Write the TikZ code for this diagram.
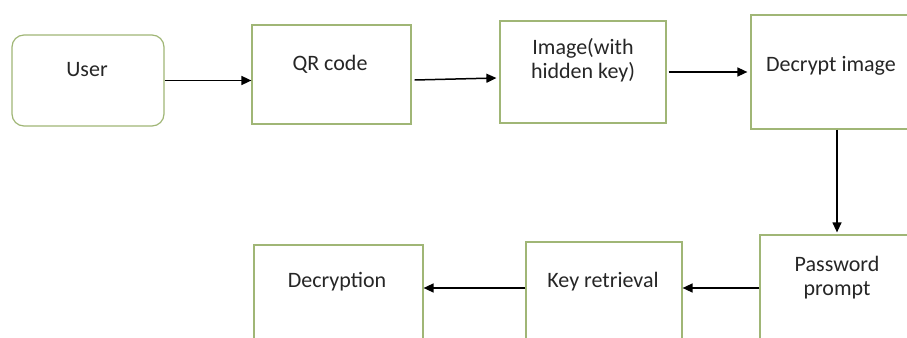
\documentclass[tikz,border=0pt]{standalone}
\usepackage{fontspec}
\setmainfont{Carlito}
\usetikzlibrary{arrows.meta}

\definecolor{boxgreen}{RGB}{160,182,118}

\tikzstyle{block} = [draw=boxgreen, line width=0.6pt, fill=white, inner sep=0pt]
\tikzstyle{start} = [block, rounded corners=6pt]
\tikzstyle{txt} = [font=\fontsize{11}{12}\selectfont, text=black!85, align=center, inner sep=0pt]
\tikzstyle{flow} = [line width=0.75pt, -{Triangle[length=5pt,width=4.5pt]}]

\begin{document}
\begin{tikzpicture}[x=0.5pt, y=-0.5pt]
  \useasboundingbox (0,0) rectangle (907,338);
  \clip (0,0) rectangle (907,338);

  % boxes
  \node (user) at (88,80.5) [start, minimum width=76pt, minimum height=45.5pt] {};
  \node (qr) at (331.5,74.5) [block, minimum width=79.5pt, minimum height=49.5pt] {};
  \node (img) at (583,72) [block, minimum width=83pt, minimum height=51pt] {};
  \node (dec) at (838,72) [block, minimum width=87pt, minimum height=57pt] {};
  \node (pwd) at (842.5,292.5) [block, minimum width=82.5pt, minimum height=57.5pt] {};
  \node (key) at (604,296) [block, minimum width=78pt, minimum height=54pt] {};
  \node (decr) at (338.5,297.5) [block, minimum width=84.5pt, minimum height=52.5pt] {};

  % texts
  \node (usert) at (87,70) [txt] {User};
  \node (qrt) at (330,64) [txt] {QR code};
  \node (imgt) at (583,60) [txt] {Image(with\\hidden key)};
  \node (dect) at (831,66) [txt] {Decrypt image};
  \node (pwdt) at (837,278) [txt] {Password\\prompt};
  \node (keyt) at (603,282) [txt] {Key retrieval};
  \node (decrt) at (337,282) [txt] {Decryption};

  \coordinate (rowb) at (0,288);

  \draw [flow] (user.east) -- (user.east -| qr.west);
  \draw [flow] ([xshift=1.5pt,yshift=-2.75pt]qr.east) -- ([xshift=-1.5pt,yshift=-3pt]img.west);
  \draw [flow] ([xshift=1pt]img.east) -- ([xshift=-1.5pt]img.east -| dec.west);
  \draw [flow, line width=0.6pt] ([xshift=-0.5pt]dec.south) -- ([xshift=-0.5pt,yshift=1pt]dec.south |- pwd.north);
  \draw [flow] (pwd.west |- rowb) -- (key.east |- rowb);
  \draw [flow] (key.west |- rowb) -- (decr.east |- rowb);
\end{tikzpicture}
\end{document}
